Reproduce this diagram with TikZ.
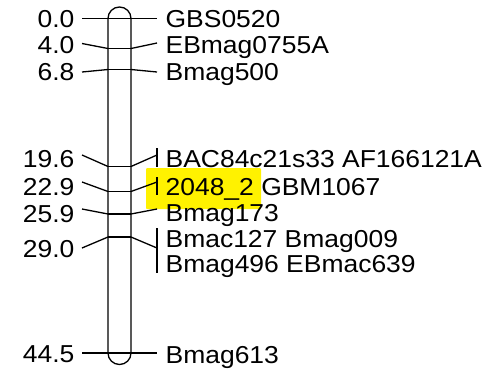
\documentclass[tikz,border=0pt]{standalone}
\usepackage{fontspec}
\setmainfont{Liberation Sans}[FakeStretch=1.08]
\begin{document}
\begin{tikzpicture}[x=1pt,y=-1pt,line width=1.3pt,
  lbl/.style={inner sep=0pt,font=\fontsize{24.5}{27}\selectfont},
  poslbl/.style={lbl,anchor=base east},
  mrklbl/.style={lbl,anchor=base west},
  tickline/.style={line width=1.3pt}]
\useasboundingbox (0,0) rectangle (490,373);
% highlight
\fill[yellow,rounded corners=1pt] (146,168) rectangle (261,209);
% chromosome
\draw[rounded corners=11.5pt] (108,7) rectangle (131,364.5);
% marker coordinates on chromosome
\foreach \n/\y in {a/18.5,b/48.5,c/69.5,d/166.5,e/191.5,f/214,g/237,h/353}{
  \coordinate (L\n) at (108,\y);
  \coordinate (R\n) at (131,\y);
  \draw[tickline] (L\n) -- (R\n);
}
% left ends
\foreach \n/\y in {a/18.5,b/43.5,c/72,d/155,e/182,f/209,g/248,h/353}{
  \coordinate (PL\n) at (82,\y);
  \draw[tickline] (PL\n) -- (L\n);
}
% right ends
\foreach \n/\y in {a/18.5,b/43,c/72,d/155,e/182,f/209,g/248,h/353}{
  \coordinate (PR\n) at (157,\y);
  \draw[tickline] (R\n) -- (PR\n);
}
% brackets
\coordinate (Bd1) at (157,148); \coordinate (Bd2) at (157,167);
\coordinate (Be1) at (157,177); \coordinate (Be2) at (157,195);
\coordinate (Bg1) at (157,228); \coordinate (Bg2) at (157,273);
\draw[tickline] (Bd1) -- (Bd2);
\draw[tickline] (Be1) -- (Be2);
\draw[tickline] (Bg1) -- (Bg2);
% position labels
\node[poslbl] (pa) at (75,27.5) {0.0};
\node[poslbl] (pb) at (75,53) {4.0};
\node[poslbl] (pc) at (75,80.5) {6.8};
\node[poslbl] (pd) at (75,167) {19.6};
\node[poslbl] (pe) at (75,195) {22.9};
\node[poslbl] (pf) at (75,222) {25.9};
\node[poslbl] (pg) at (75,257) {29.0};
\node[poslbl] (ph) at (75,362) {44.5};
% marker labels
\node[mrklbl] (ma) at (165,27.5) {GBS0520};
\node[mrklbl] (mb) at (165,53.5) {EBmag0755A};
\node[mrklbl] (mc) at (165,80.5) {Bmag500};
\node[mrklbl] (md) at (165,167) {BAC84c21s33 AF166121A};
\node[mrklbl] (me) at (165,195) {2048\_2 GBM1067};
\node[mrklbl] (mf) at (165,221) {Bmag173};
\node[mrklbl] (mg1) at (165,247) {Bmac127 Bmag009};
\node[mrklbl] (mg2) at (165,272) {Bmag496 EBmac639};
\node[mrklbl] (mh) at (165,363) {Bmag613};
\end{tikzpicture}
\end{document}
